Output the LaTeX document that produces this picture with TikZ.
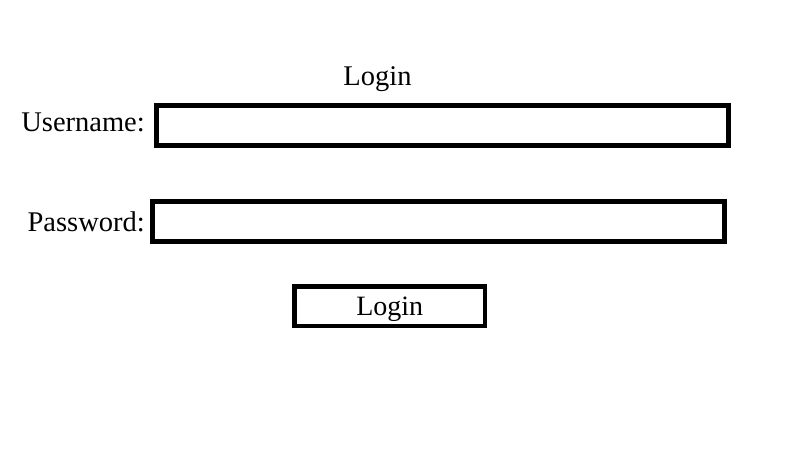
\documentclass[tikz,border=0pt]{standalone}
\usepackage{fontspec}
\setmainfont{Liberation Serif}
\begin{document}
\begin{tikzpicture}[x=1pt,y=-1pt,
  lbl/.style={font=\fontsize{28.5}{34}\selectfont, inner sep=0pt},
  field/.style={draw=black, line width=5pt, rectangle, inner sep=0pt, minimum width=572pt, minimum height=40pt},
  btn/.style={draw=black, line width=4.5pt, rectangle, inner sep=0pt, minimum width=190.5pt, minimum height=39.7pt,
    font=\fontsize{28}{34}\selectfont, text height=18pt, text depth=0pt}]
\useasboundingbox (0,0) rectangle (799,448);
\node[lbl, anchor=base] (title) at (377.5,85) {Login};
\node[lbl, anchor=base east] (userlabel) at (145,131) {Username:};
\node[field] (userbox) at (442.5,125) {};
\node[lbl, anchor=base east] (passlabel) at (145,231.7) {Password:};
\node[field, minimum width=571.7pt] (passbox) at (438.35,221.8) {};
\node[btn] (button) at (389.75,306.15) {Login};
\end{tikzpicture}
\end{document}
